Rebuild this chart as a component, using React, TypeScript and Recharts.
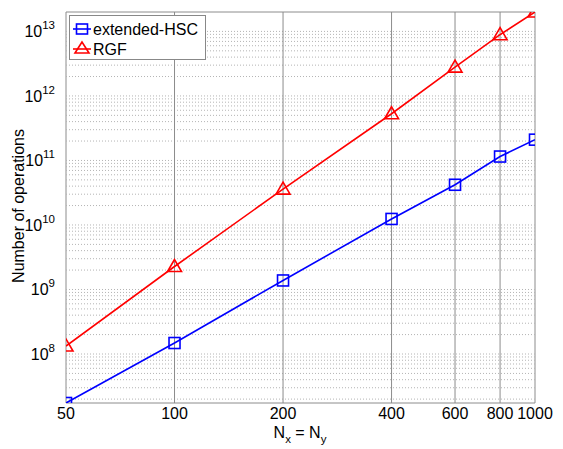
import { LineChart, Line, XAxis, YAxis, ReferenceLine, ReferenceArea } from "recharts";

const nValues = [50, 100, 200, 400, 600, 800, 1000];
const hscOps = [1.74e7, 1.48e8, 1.38e9, 1.24e10, 4.2e10, 1.15e11, 2.1e11];
const rgfOps = [1.33e8, 2.27e9, 3.6e10, 5.3e11, 2.8e12, 8.9e12, 2.0e13];

const xTicks = [50, 100, 200, 400, 600, 800, 1000];
const yTicks = [1e8, 1e9, 1e10, 1e11, 1e12, 1e13];
const Y_MIN = 1.74e7;
const Y_MAX = 2.0e13;

const data = nValues.map((n, i) => ({ n, hsc: hscOps[i], rgf: rgfOps[i] }));

// dotted minor grid: 2..9 x 10^k inside the axis range
const minorY: number[] = [];
for (let k = 7; k <= 13; k++) {
  for (let m = 1; m <= 9; m++) {
    const v = m * Math.pow(10, k);
    if (v > Y_MIN && v < Y_MAX) minorY.push(v);
  }
}

const FONT = "'Liberation Sans', Arial, sans-serif";

function YTick(props: any) {
  const { x, y, payload } = props;
  const exp = Math.round(Math.log10(payload.value));
  return (
    <text x={x - 3} y={y + 6} textAnchor="end" fontFamily={FONT} fontSize={16} fill="#000">
      <tspan>10</tspan>
      <tspan dy={-8} fontSize={11.5}>{exp}</tspan>
    </text>
  );
}

function XTick(props: any) {
  const { x, payload } = props;
  return (
    <text x={x} y={419} textAnchor="middle" fontFamily={FONT} fontSize={16} fill="#000">
      {payload.value}
    </text>
  );
}

function SquareDot(props: any) {
  const { cx, cy, index } = props;
  if (cx == null || cy == null) return <g key={`s${index}`} />;
  return <rect key={`s${index}`} x={cx - 5.5} y={cy - 5.5} width={11} height={11} fill="none" stroke="#0000ff" strokeWidth={1.6} />;
}

function TriDot(props: any) {
  const { cx, cy, index } = props;
  if (cx == null || cy == null) return <g key={`t${index}`} />;
  const pts = `${cx},${cy - 7} ${cx - 7},${cy + 5} ${cx + 7},${cy + 5}`;
  return <polygon key={`t${index}`} points={pts} fill="none" stroke="#ff0000" strokeWidth={1.6} />;
}

function LegendBox() {
  return (
    <svg width={137} height={45} style={{ display: "block" }}>
      <rect x={0.5} y={0.5} width={136} height={44} fill="#fff" stroke="#888" />
      <line x1={4} y1={14} x2={22} y2={14} stroke="#0000ff" strokeWidth={1.6} />
      <rect x={7.5} y={9} width={11} height={10} fill="none" stroke="#0000ff" strokeWidth={1.6} />
      <text x={24} y={20} fontFamily={FONT} fontSize={16} fill="#000">extended-HSC</text>
      <line x1={4} y1={34} x2={22} y2={34} stroke="#ff0000" strokeWidth={1.6} />
      <polygon points="13,27 6,38 20,38" fill="none" stroke="#ff0000" strokeWidth={1.6} />
      <text x={24} y={40} fontFamily={FONT} fontSize={16} fill="#000">RGF</text>
    </svg>
  );
}

export default function App() {
  return (
    <div style={{ position: "absolute", left: 0, top: 0, width: 563, height: 449, background: "#fff" }}>
      <LineChart width={563} height={449} data={data} margin={{ top: 12, right: 28, left: 0, bottom: 0 }}>
        <XAxis
          dataKey="n"
          type="number"
          scale="log"
          domain={[50, 1000]}
          ticks={xTicks}
          allowDataOverflow
          height={46}
          tick={<XTick />}
          tickLine={false}
          axisLine={false}
          label={{
            content: () => (
              <text x={300} y={438} textAnchor="middle" fontFamily={FONT} fontSize={16} fill="#000">
                <tspan>N</tspan>
                <tspan dy={5} fontSize={11.5}>x</tspan>
                <tspan dy={-5}> = N</tspan>
                <tspan dy={5} fontSize={11.5}>y</tspan>
              </text>
            ),
          }}
        />
        <YAxis
          type="number"
          scale="log"
          domain={[Y_MIN, Y_MAX]}
          ticks={yTicks}
          allowDataOverflow
          width={66}
          tick={<YTick />}
          tickLine={false}
          axisLine={false}
          label={{
            content: () => (
              <text x={24} y={206} transform="rotate(-90 24 206)" textAnchor="middle" fontFamily={FONT} fontSize={16} fill="#000">
                Number of operations
              </text>
            ),
          }}
        />
        {minorY.map((v) => (
          <ReferenceLine key={`h${v}`} y={v} stroke="#b4b4b4" strokeWidth={1} strokeDasharray="1 2" ifOverflow="hidden" />
        ))}
        {xTicks.slice(1, -1).map((v) => (
          <ReferenceLine key={`v${v}`} x={v} stroke="#8c8c8c" strokeWidth={1} />
        ))}
        <ReferenceArea x1={50} x2={1000} y1={Y_MIN} y2={Y_MAX} fill="none" stroke="#8c8c8c" strokeWidth={1} ifOverflow="visible" />
        <Line dataKey="hsc" stroke="#0000ff" strokeWidth={1.6} dot={<SquareDot />} isAnimationActive={false} />
        <Line dataKey="rgf" stroke="#ff0000" strokeWidth={1.6} dot={<TriDot />} isAnimationActive={false} />
      </LineChart>
      <div style={{ position: "absolute", left: 69, top: 15 }}>
        <LegendBox />
      </div>
    </div>
  );
}
